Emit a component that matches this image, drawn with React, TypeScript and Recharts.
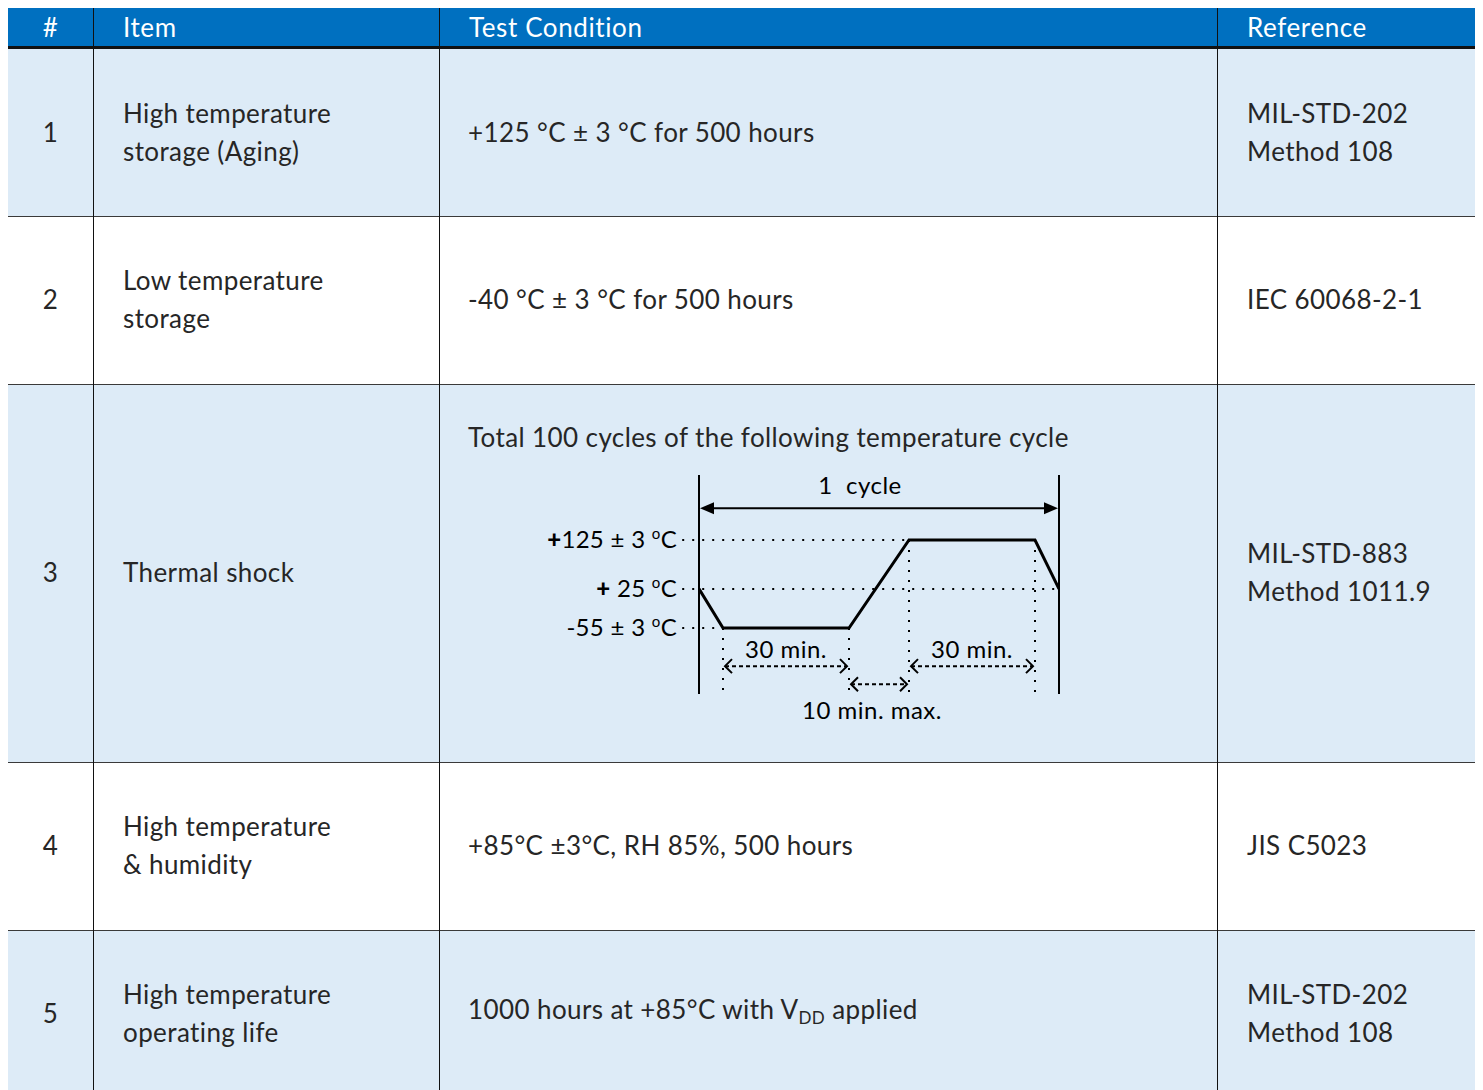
import React from 'react'
import { LineChart, Line, XAxis, YAxis, ReferenceLine } from 'recharts'

// table content
const headers = ['#', 'Item', 'Test Condition', 'Reference']
const rowNumbers = ['1', '2', '3', '4', '5']
const items = [
  ['High temperature', 'storage (Aging)'],
  ['Low temperature', 'storage'],
  ['Thermal shock'],
  ['High temperature', '& humidity'],
  ['High temperature', 'operating life']
]
const conditions = [
  '+125 °C ± 3 °C for 500 hours',
  '-40 °C ± 3 °C for 500 hours',
  'Total 100 cycles of the following temperature cycle',
  '+85°C ±3°C, RH 85%, 500 hours',
  '1000 hours at +85°C with V'
]
const references = [
  ['MIL-STD-202', 'Method 108'],
  ['IEC 60068-2-1'],
  ['MIL-STD-883', 'Method 1011.9'],
  ['JIS C5023'],
  ['MIL-STD-202', 'Method 108']
]

// thermal shock profile (schematic time units vs °C)
const cycleTime = [0, 2, 12.5, 17.5, 28, 30]
const cycleTemp = [25, -55, -55, 125, 125, 25]
const tempTicks = [-55, 25, 125]
const tempSigns = ['', '+', '+']
const tempBodies = ['-55 ± 3 ', ' 25 ', '125 ± 3 ']
const tempExtent = [-190, 258]
const timeExtent = [0, 30]

const guideStart = -1.4
const levelGuides = [
  { temp: 125, end: 17.5 },
  { temp: 25, end: 30 },
  { temp: -55, end: 2 }
]
const dropGuides = [
  { t: 2, from: -55 },
  { t: 12.5, from: -55 },
  { t: 17.5, from: 125 },
  { t: 28, from: 125 }
]
const dwellSpans = [
  { from: 2, to: 12.5, label: '30 min.' },
  { from: 17.5, to: 28, label: '30 min.' }
]
const dwellLevel = -133
const transferSpan = { from: 12.5, to: 17.5, label: '10 min. max.' }
const transferLevel = -170
const cycleLevel = 190
const cycleLabel = '1\u00a0 cycle'

const cycleData = cycleTime.map((t, i) => ({ t, temp: cycleTemp[i] }))

const colX = [0, 85, 431, 1209, 1469]
const rowY = [41, 208, 376, 754, 922, 1090]
const fills = ['#DDEBF7', '#FFFFFF', '#DDEBF7', '#FFFFFF', '#DDEBF7']
const FONT = 'Lato, "Open Sans", sans-serif'
const INK = '#262626'

const renderTempTick = (props: any) => {
  const { x, y, payload } = props
  const i = tempTicks.indexOf(payload.value)
  return (
    <text
      x={x}
      y={y + 8}
      textAnchor='end'
      fontSize={24}
      fill='#000'
      fontFamily={FONT}
      xmlSpace='preserve'
      style={{ letterSpacing: '0.3px' }}
    >
      {tempSigns[i] ? <tspan fontWeight={900}>{tempSigns[i]}</tspan> : null}
      <tspan>{tempBodies[i]}</tspan>
      <tspan dy={-9} fontSize={15}>o</tspan>
      <tspan dy={9}>C</tspan>
    </text>
  )
}

const spanArrow = (label: string, solid: boolean, labelDy: number, labelDx = 0) => (p: any) => {
  const l = Math.min(p.x1, p.x2)
  const r = Math.max(p.x1, p.x2)
  const y = p.y1
  const mid = (l + r) / 2
  return (
    <g>
      {solid ? (
        <g>
          <line x1={l + 12} x2={r - 12} y1={y} y2={y} stroke='#000' strokeWidth={2} />
          <polygon points={`${l + 1},${y} ${l + 15},${y - 6} ${l + 15},${y + 6}`} fill='#000' />
          <polygon points={`${r - 1},${y} ${r - 15},${y - 6} ${r - 15},${y + 6}`} fill='#000' />
        </g>
      ) : (
        <g fill='none' stroke='#000' strokeWidth={2}>
          <line x1={l + 2} x2={r - 2} y1={y} y2={y} strokeDasharray='4 3' />
          <polyline points={`${l + 9},${y - 7} ${l + 2},${y} ${l + 9},${y + 7}`} />
          <polyline points={`${r - 9},${y - 7} ${r - 2},${y} ${r - 9},${y + 7}`} />
        </g>
      )}
      <text
        x={mid + labelDx}
        y={y + labelDy}
        textAnchor='middle'
        fontSize={24}
        fill='#000'
        fontFamily={FONT}
        style={{ letterSpacing: '0.5px' }}
      >
        {label}
      </text>
    </g>
  )
}

const ThermalCycle: React.FC = () => {
  return (
    <LineChart width={560} height={280} data={cycleData} margin={{ top: 15, right: 41, bottom: 46, left: 0 }}>
      <XAxis type='number' dataKey='t' domain={timeExtent} allowDataOverflow hide />
      <YAxis
        type='number'
        domain={tempExtent}
        allowDataOverflow
        ticks={tempTicks}
        interval={0}
        width={159}
        axisLine={false}
        tickLine={false}
        tickSize={0}
        tickMargin={22}
        tick={renderTempTick}
      />
      {levelGuides.map((g) => (
        <ReferenceLine
          key={'h' + g.temp}
          segment={[{ x: guideStart, y: g.temp }, { x: g.end, y: g.temp }]}
          ifOverflow='visible'
          stroke='#000'
          strokeWidth={2}
          strokeDasharray='2 8'
        />
      ))}
      {dropGuides.map((g) => (
        <ReferenceLine
          key={'v' + g.t}
          segment={[{ x: g.t, y: g.from }, { x: g.t, y: tempExtent[0] }]}
          ifOverflow='visible'
          stroke='#000'
          strokeWidth={2}
          strokeDasharray='2 8'
        />
      ))}
      <ReferenceLine x={timeExtent[0]} stroke='#000' strokeWidth={2} ifOverflow='visible' />
      <ReferenceLine x={timeExtent[1]} stroke='#000' strokeWidth={2} ifOverflow='visible' />
      <ReferenceLine
        segment={[{ x: timeExtent[0], y: cycleLevel }, { x: timeExtent[1], y: cycleLevel }]}
        ifOverflow='visible'
        shape={spanArrow(cycleLabel, true, -14, -19)}
      />
      {dwellSpans.map((s) => (
        <ReferenceLine
          key={'d' + s.from}
          segment={[{ x: s.from, y: dwellLevel }, { x: s.to, y: dwellLevel }]}
          ifOverflow='visible'
          shape={spanArrow(s.label, false, -8)}
        />
      ))}
      <ReferenceLine
        segment={[{ x: transferSpan.from, y: transferLevel }, { x: transferSpan.to, y: transferLevel }]}
        ifOverflow='visible'
        shape={spanArrow(transferSpan.label, false, 35, -7)}
      />
      <Line
        type='linear'
        dataKey='temp'
        stroke='#000'
        strokeWidth={3}
        dot={false}
        isAnimationActive={false}
      />
    </LineChart>
  )
}

const Lines: React.FC<{ lines: string[] }> = ({ lines }) => (
  <div>
    {lines.map((l, i) => (
      <div key={i}>{l}</div>
    ))}
  </div>
)

const App: React.FC = () => {
  return (
    <div
      style={{
        position: 'relative',
        width: 1469,
        height: 1082,
        overflow: 'hidden',
        fontFamily: FONT,
        fontWeight: 400,
        color: INK,
        fontSize: 26,
        letterSpacing: '0.4px',
        lineHeight: '38px'
      }}
    >
      <div style={{ position: 'absolute', left: 0, top: -1, width: 1469, height: 1, background: '#c8c8c8' }} />
      <div style={{ position: 'absolute', left: 0, top: 0, width: 1469, height: 39, background: '#0070C0' }} />
      <div style={{ position: 'absolute', left: 0, top: 38, width: 1469, height: 3, background: '#111' }} />
      {headers.map((h, c) => (
        <div
          key={h}
          style={{
            position: 'absolute',
            left: colX[c],
            top: 0,
            width: colX[c + 1] - colX[c],
            height: 38,
            lineHeight: '38px',
            color: '#fff',
            fontWeight: 400,
            fontSize: 26,
            letterSpacing: '0.6px',
            textAlign: c === 0 ? 'center' : 'left',
            paddingLeft: c === 0 ? 0 : 30,
            boxSizing: 'border-box'
          }}
        >
          {h}
        </div>
      ))}
      {rowNumbers.map((n, r) => {
        const top = rowY[r]
        const h = rowY[r + 1] - top
        const cell = (c: number, content: React.ReactNode, extra: React.CSSProperties = {}) => (
          <div
            style={{
              position: 'absolute',
              left: colX[c],
              top,
              width: colX[c + 1] - colX[c],
              height: h,
              display: 'flex',
              flexDirection: 'column',
              justifyContent: 'center',
              alignItems: c === 0 ? 'center' : 'flex-start',
              paddingLeft: c === 0 ? 0 : c === 2 ? 29 : 30,
              paddingBottom: 2,
              boxSizing: 'border-box',
              ...extra
            }}
          >
            {content}
          </div>
        )
        return (
          <React.Fragment key={n}>
            <div style={{ position: 'absolute', left: 0, top, width: 1469, height: h, background: fills[r] }} />
            {r > 0 && (
              <div style={{ position: 'absolute', left: 0, top: top, width: 1469, height: 1, background: '#3a3a3a' }} />
            )}
            {cell(0, n)}
            {cell(1, <Lines lines={items[r]} />)}
            {r === 2
              ? cell(2, conditions[r], { justifyContent: 'flex-start', paddingTop: 34 })
              : r === 4
              ? cell(
                  2,
                  <div>
                    {conditions[r]}
                    <sub style={{ fontSize: 17, verticalAlign: '-5px' }}>DD</sub> applied
                  </div>
                )
              : cell(2, conditions[r])}
            {cell(3, <Lines lines={references[r]} />)}
          </React.Fragment>
        )
      })}
      {colX.slice(1, 4).map((x) => (
        <div key={x} style={{ position: 'absolute', left: x, top: 0, width: 1, height: 1082, background: '#111' }} />
      ))}
      <div style={{ position: 'absolute', left: 532, top: 452 }}>
        <ThermalCycle />
      </div>
    </div>
  )
}

export default App
